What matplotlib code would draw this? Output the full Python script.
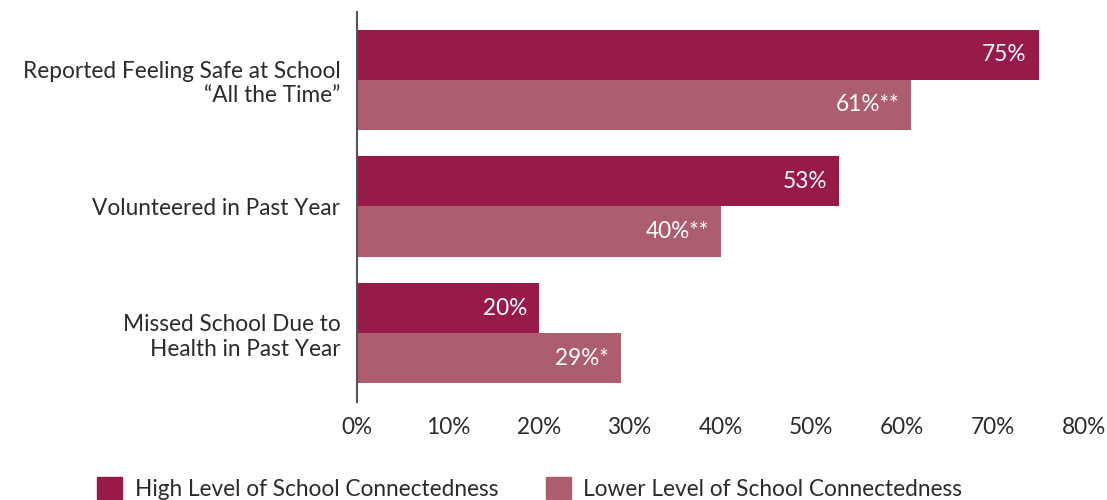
import numpy as np
import matplotlib.pyplot as plt
from matplotlib.patches import Patch

plt.rcParams['font.family'] = ['Lato', 'DejaVu Sans']

# Daten
categories = ["Reported Feeling Safe at School\n\u201cAll the Time\u201d",
              "Volunteered in Past Year",
              "Missed School Due to\nHealth in Past Year"]
high_vals = [75, 53, 20]
low_vals = [61, 40, 29]
high_labels = ["75%", "53%", "20%"]
low_labels = ["61%**", "40%**", "29%*"]
series_names = ["High Level of School Connectedness", "Lower Level of School Connectedness"]
xticks = [0, 10, 20, 30, 40, 50, 60, 70, 80]

DARK = "#981a49"
LIGHT = "#ad5e6e"
TXT = "#2b2b2b"
FS = 16.3

fig = plt.figure(figsize=(11.07, 5.0), dpi=100)
ax = fig.add_axes([357 / 1107, 1 - 402 / 500, (1084 - 357) / 1107, (402 - 12) / 500])

y = np.arange(len(categories))
h = 0.395
ax.barh(y - h / 2, high_vals, height=h, color=DARK)
ax.barh(y + h / 2, low_vals, height=h, color=LIGHT)

# Werte in den Balken
for i in range(len(categories)):
    ax.text(high_vals[i] - 1.3, y[i] - h / 2, high_labels[i], color="white",
            ha="right", va="center", fontsize=FS)
    ax.text(low_vals[i] - 1.3, y[i] + h / 2, low_labels[i], color="white",
            ha="right", va="center", fontsize=FS)

ax.set_xlim(0, 80)
ax.set_ylim(2.543, -0.535)
ax.set_xticks(xticks)
ax.set_xticklabels([f"{t}%" for t in xticks], fontsize=FS, color=TXT)
ax.set_yticks(y)
ax.set_yticklabels(categories, fontsize=FS, color=TXT, linespacing=1.2)
ax.tick_params(axis="both", length=0)
ax.tick_params(axis="y", pad=12)
ax.tick_params(axis="x", pad=11)
for s in ["top", "right", "bottom"]:
    ax.spines[s].set_visible(False)
ax.spines["left"].set_color("#555555")
ax.spines["left"].set_linewidth(1.5)

handles = [Patch(color=DARK), Patch(color=LIGHT)]
fig.legend(handles, series_names, loc="lower left", bbox_to_anchor=(77 / 1107, -0.04),
           ncol=2, frameon=False, fontsize=FS, handlelength=1.1, handleheight=1.1,
           columnspacing=2.1, handletextpad=0.55, labelcolor=TXT)

plt.savefig("out.png", dpi=100)
